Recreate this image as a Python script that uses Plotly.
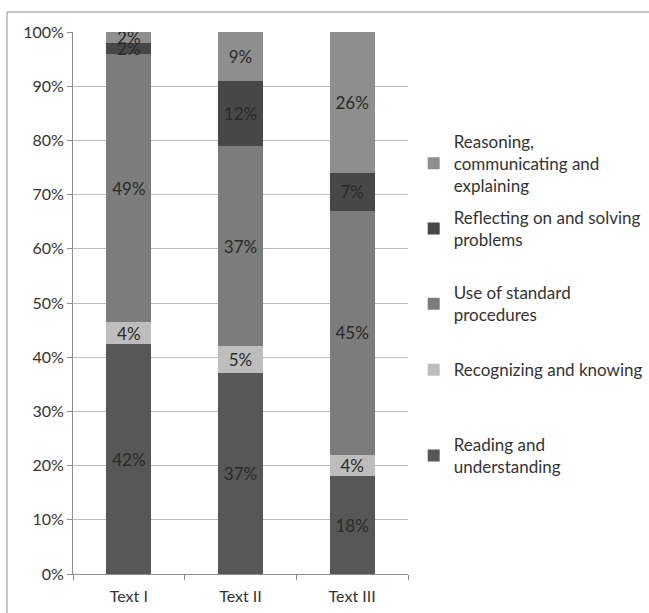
import plotly.graph_objects as go

categories = ["Text I", "Text II", "Text III"]
series_names = [
    "Reading and<br>understanding",
    "Recognizing and knowing",
    "Use of standard<br>procedures",
    "Reflecting on and solving<br>problems",
    "Reasoning,<br>communicating and<br>explaining",
]
reading = [42, 37, 18]
recognizing = [4, 5, 4]
standard = [49, 37, 45]
reflecting = [2, 12, 7]
reasoning = [2, 9, 26]
series_values = [reading, recognizing, standard, reflecting, reasoning]
colors = ["#575757", "#bdbdbd", "#7c7c7c", "#474747", "#8e8e8e"]
legend_ids = ["legend5", "legend4", "legend3", "legend2", "legend"]
legend_y = [0.2177, 0.376, 0.498, 0.6365, 0.757]

FONT = "Lato"
fig = go.Figure()
for name, vals, col, lid in zip(series_names, series_values, colors, legend_ids):
    fig.add_trace(go.Bar(
        x=categories, y=vals, name=name, marker=dict(color=col, line=dict(width=0)),
        text=[f"{v}%" for v in vals], textposition="inside", insidetextanchor="middle",
        textangle=0, textfont=dict(color="#2a2a2a", size=17, family=FONT),
        legend=lid,
    ))

legends = {}
for lid, ly in zip(legend_ids, legend_y):
    legends[lid] = dict(x=1.017, xanchor="left", y=ly, yanchor="middle",
                        font=dict(family=FONT, size=17, color="#333"),
                        bgcolor="rgba(0,0,0,0)", borderwidth=0, itemclick=False)

fig.update_layout(
    barmode="stack", barnorm="percent", bargap=0.595,
    width=649, height=613,
    margin=dict(l=73, r=241, t=32, b=39, autoexpand=False),
    plot_bgcolor="white", paper_bgcolor="white",
    font=dict(family=FONT, size=16, color="#333"),
    uniformtext=dict(minsize=17, mode="show"),
    showlegend=True,
    **legends,
    xaxis=dict(showline=True, linecolor="#8c8c8c", linewidth=1, ticks="outside",
               tickson="boundaries", ticklen=5, tickcolor="#8c8c8c", ticklabelstandoff=8,
               tickfont=dict(family=FONT, size=16, color="#333")),
    yaxis=dict(range=[0, 100], dtick=10, ticksuffix="%", showline=True, linecolor="#8c8c8c",
               linewidth=1, ticks="outside", ticklen=5, tickcolor="#8c8c8c",
               showgrid=True, gridcolor="#bcbcbc", gridwidth=1, zeroline=False,
               tickfont=dict(family=FONT, size=16, color="#333")),
    shapes=[dict(type="rect", xref="paper", yref="paper",
                 x0=(7 - 73) / 335, x1=(660 - 73) / 335,
                 y0=(574 - 625) / 542, y1=(574 - 12) / 542,
                 line=dict(color="#8c8c8c", width=1), fillcolor="rgba(0,0,0,0)", layer="below")],
)
fig.write_html("out.html")
